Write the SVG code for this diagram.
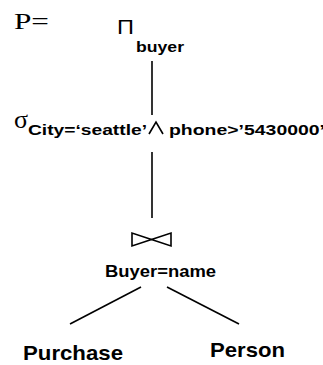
<svg xmlns="http://www.w3.org/2000/svg" width="323" height="365" viewBox="0 0 323 365">
<style>
.lbl{font-family:"Liberation Sans",Arial,sans-serif;font-weight:bold;fill:#000}
.sym{font-family:"Liberation Serif","Times New Roman",serif;fill:#000}
.ln{stroke:#000;stroke-width:1.6;fill:none}
</style>
<rect width="323" height="365" fill="#fff"/>
<g id="title"><text class="sym" x="14" y="29" font-size="24" textLength="35" lengthAdjust="spacingAndGlyphs">P=</text></g>
<g id="project">
<text x="117" y="34" font-family="Liberation Sans,Arial,sans-serif" font-size="21" fill="#000" textLength="17" lengthAdjust="spacingAndGlyphs">Π</text>
<text class="lbl" x="136" y="52" font-size="15" textLength="48" lengthAdjust="spacingAndGlyphs">buyer</text>
</g>
<g id="select">
<text class="sym" x="14" y="128" font-size="26">σ</text>
<text class="lbl" x="28" y="135" font-size="15.5" textLength="119" lengthAdjust="spacingAndGlyphs">City=‘seattle’</text>
<polyline class="ln" points="149,134 156,122 163,134" stroke-width="1.2"/>
<text class="lbl" x="169" y="135" font-size="15.5" textLength="156" lengthAdjust="spacingAndGlyphs">phone&gt;’5430000’</text>
</g>
<g id="join">
<polygon class="ln" points="132,233 132,246 151.5,239.5" stroke-width="1.4"/>
<polygon class="ln" points="171,233 171,246 151.5,239.5" stroke-width="1.4"/>
<text class="lbl" x="105" y="277" font-size="16" textLength="111" lengthAdjust="spacingAndGlyphs">Buyer=name</text>
</g>
<g id="purchase"><text class="lbl" x="23" y="360" font-size="21" textLength="100" lengthAdjust="spacingAndGlyphs">Purchase</text></g>
<g id="person"><text class="lbl" x="210" y="357" font-size="21" textLength="75" lengthAdjust="spacingAndGlyphs">Person</text></g>
<g id="connectors">
<line class="ln" x1="152" y1="61" x2="152" y2="115"/>
<line class="ln" x1="152" y1="152" x2="152" y2="218"/>
<line class="ln" x1="141" y1="287" x2="70" y2="324"/>
<line class="ln" x1="167" y1="287" x2="239" y2="324"/>
</g>
</svg>
